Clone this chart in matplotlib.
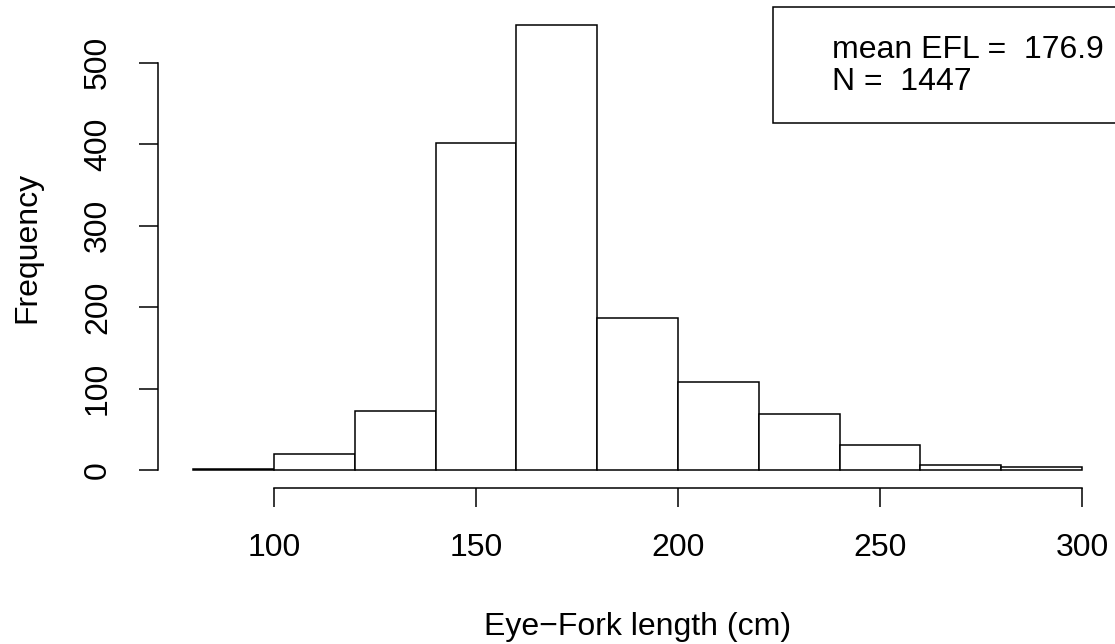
import matplotlib
matplotlib.use("Agg")
import matplotlib.pyplot as plt
import numpy as np
from matplotlib.patches import Rectangle

# Data
bin_edges = [80, 100, 120, 140, 160, 180, 200, 220, 240, 260, 280, 300]
counts = [1, 20, 73, 402, 546, 187, 108, 69, 31, 6, 4]
x_ticks = [100, 150, 200, 250, 300]
y_ticks = [0, 100, 200, 300, 400, 500]
legend_lines = ["mean EFL =  176.9", "N =  1447"]
xlabel = "Eye\u2212Fork length (cm)"
ylabel = "Frequency"

plt.rcParams['font.family'] = ['Liberation Sans', 'DejaVu Sans']
FS = 23

W, H = 1115, 644
fig = plt.figure(figsize=(W / 100, H / 100), dpi=100)

# plot region in pixels (R-style)
px_left, px_right = 157.6, 1117.6
px_top, px_bottom = 7.4, 487.8
ax = fig.add_axes([px_left / W, 1 - px_bottom / H,
                   (px_right - px_left) / W, (px_bottom - px_top) / H])

edges = np.array(bin_edges, dtype=float)
ax.bar(edges[:-1], counts, width=np.diff(edges), align='edge',
       facecolor='white', edgecolor='black', linewidth=1.1)

xr = edges[-1] - edges[0]
ax.set_xlim(edges[0] - 0.04 * xr, edges[-1] + 0.04 * xr)
ymax = max(counts)
ax.set_ylim(-0.04 * ymax, ymax * 1.04)

for s in ['top', 'right']:
    ax.spines[s].set_visible(False)
ax.spines['left'].set_bounds(y_ticks[0], y_ticks[-1])
ax.spines['bottom'].set_bounds(x_ticks[0], x_ticks[-1])
for s in ['left', 'bottom']:
    ax.spines[s].set_linewidth(1.1)

ax.set_xticks(x_ticks)
ax.set_yticks(y_ticks)
ax.set_yticklabels([str(v) for v in y_ticks], rotation=90, va='center')
ax.tick_params(axis='both', length=13.7, width=1.1, labelsize=FS, direction='out')
ax.tick_params(axis='x', pad=19)
ax.tick_params(axis='y', pad=18.5)

# axis titles
fig.text((px_left + px_right) / 2 / W, 1 - 635 / H, xlabel,
         ha='center', va='baseline', fontsize=FS)
fig.text(27 / W, 1 - (px_top + px_bottom) / 2 / H, ylabel,
         ha='center', va='center', rotation=90, fontsize=FS)

# legend box (topright)
box_left, box_bottom = 773, 123.3
fig.patches.append(Rectangle((box_left / W, 1 - box_bottom / H),
                             (px_right - box_left) / W, (box_bottom - px_top) / H,
                             transform=fig.transFigure, facecolor='white',
                             edgecolor='black', linewidth=1.1))
baselines = [58, 90]
for txt, b in zip(legend_lines, baselines):
    fig.text(832 / W, 1 - b / H, txt, ha='left', va='baseline', fontsize=FS)

fig.savefig("out.png", dpi=100, facecolor='white')
